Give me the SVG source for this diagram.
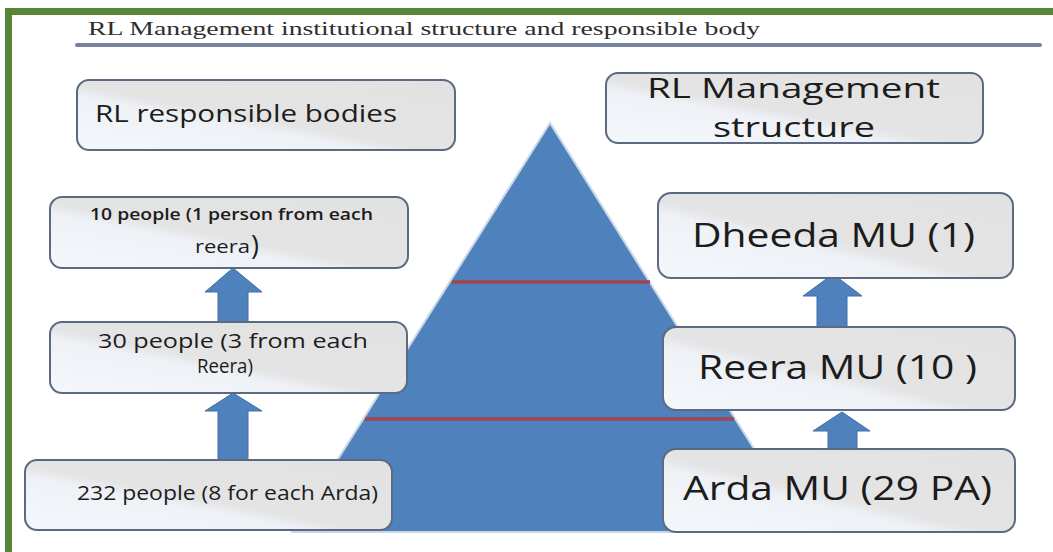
<svg xmlns="http://www.w3.org/2000/svg" width="1053" height="552" viewBox="0 0 1053 552">
<defs>
<linearGradient id="boxg" x1="0" y1="1" x2="1" y2="0">
<stop offset="0" stop-color="#f4f7fc"/>
<stop offset="0.38" stop-color="#eef1f6"/>
<stop offset="0.46" stop-color="#e4e4e5"/>
<stop offset="1" stop-color="#e2e2e3"/>
</linearGradient>
<style>
.box{fill:url(#boxg);stroke:#5b6a80;stroke-width:2}
.t{font-family:"Open Sans","Liberation Sans",sans-serif;fill:#1c1c1c}
.arr{fill:#4f81bd;stroke:#3f6fa6;stroke-width:1}
.red{stroke:#a2454f;stroke-width:3.5}
</style>
</defs>
<rect x="0" y="0" width="1053" height="552" fill="#ffffff"/>
<g id="frame">
<rect x="5" y="8" width="1048" height="7" fill="#578636"/>
<rect x="5" y="8" width="7" height="544" fill="#578636"/>
</g>
<g id="title">
<text x="88" y="35" font-family="'Liberation Serif',serif" font-size="19" fill="#2e2e2e" textLength="672" lengthAdjust="spacingAndGlyphs">RL Management institutional structure and responsible body</text>
<line x1="77" y1="45" x2="1040" y2="45" stroke="#76839f" stroke-width="4" stroke-linecap="round"/>
</g>
<g id="pyramid">
<polygon points="550,123 292,532 806,532" fill="#4f81bd" stroke="#c9d6e6" stroke-width="2"/>
<line class="red" x1="452" y1="282" x2="650" y2="282"/>
<line class="red" x1="365" y1="419" x2="734" y2="419"/>
</g>
<g id="connectors">
<polygon class="arr" points="233,268 262,292 248,292 248,322 218,322 218,292 205,292"/>
<polygon class="arr" points="233,393 262,411 248,411 248,461 218,461 218,411 205,411"/>
<polygon class="arr" points="833,274 862,296 847,296 847,327 817,327 817,296 803,296"/>
<polygon class="arr" points="842,412 870,431 857,431 857,449 828,449 828,431 813,431"/>
</g>
<g id="rl-bodies">
<rect class="box" x="77" y="80" width="378" height="70" rx="12"/>
<text class="t" x="95" y="122" font-size="24" font-weight="500" textLength="302" lengthAdjust="spacingAndGlyphs">RL responsible bodies</text>
</g>
<g id="ten-people">
<rect class="box" x="50" y="197" width="358" height="71" rx="12"/>
<text class="t" x="90" y="220" font-size="17" font-weight="600" textLength="283" lengthAdjust="spacingAndGlyphs">10 people (1 person from each</text>
<text class="t" x="195" y="253" font-size="18" textLength="55" lengthAdjust="spacingAndGlyphs">reera</text>
<text class="t" x="251" y="255" font-size="27">)</text>
</g>
<g id="thirty-people">
<rect class="box" x="50" y="322" width="357" height="71" rx="12"/>
<text class="t" x="98" y="348" font-size="20" font-weight="500" textLength="270" lengthAdjust="spacingAndGlyphs">30 people (3 from each</text>
<text class="t" x="197" y="373" font-size="20" font-weight="500" textLength="56" lengthAdjust="spacingAndGlyphs">Reera)</text>
</g>
<g id="232-people">
<rect class="box" x="25" y="460" width="367" height="70" rx="12"/>
<text class="t" x="77" y="500" font-size="20" font-weight="500" textLength="301" lengthAdjust="spacingAndGlyphs">232 people (8 for each Arda)</text>
</g>
<g id="rl-structure">
<rect class="box" x="606" y="73" width="377" height="70" rx="12"/>
<text class="t" x="647" y="98" font-size="28" textLength="293" lengthAdjust="spacingAndGlyphs">RL Management</text>
<text class="t" x="713" y="137" font-size="28" textLength="162" lengthAdjust="spacingAndGlyphs">structure</text>
</g>
<g id="dheeda">
<rect class="box" x="658" y="193" width="355" height="85" rx="13"/>
<text class="t" x="692" y="247" font-size="33" textLength="283" lengthAdjust="spacingAndGlyphs">Dheeda MU (1)</text>
</g>
<g id="reera">
<rect class="box" x="663" y="327" width="352" height="83" rx="13"/>
<text class="t" x="698" y="379" font-size="33" textLength="279" lengthAdjust="spacingAndGlyphs">Reera MU (10 )</text>
</g>
<g id="arda">
<rect class="box" x="663" y="449" width="352" height="83" rx="13"/>
<text class="t" x="683" y="500" font-size="33" textLength="309" lengthAdjust="spacingAndGlyphs">Arda MU (29 PA)</text>
</g>
</svg>
